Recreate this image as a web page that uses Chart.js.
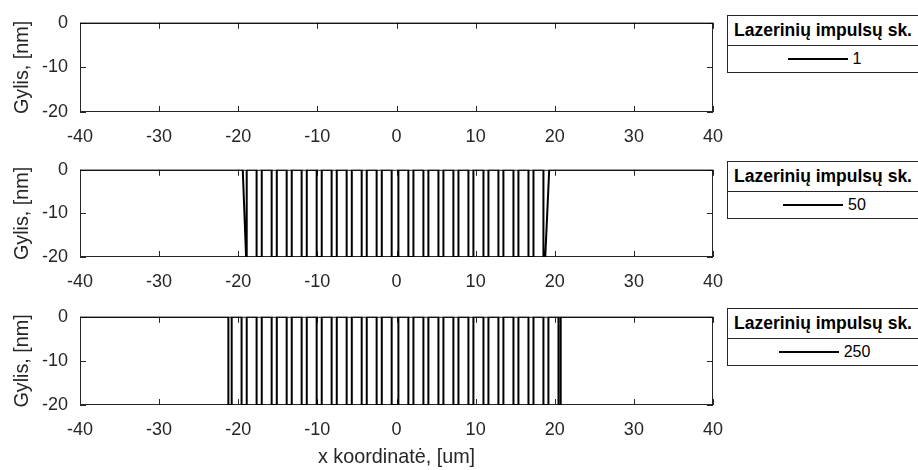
<!DOCTYPE html>
<html>
<head>
<meta charset="utf-8">
<script src="https://cdn.jsdelivr.net/npm/chart.js@4.4.0/dist/chart.umd.min.js"></script>
<style>
  body { margin: 0; background: #fff; width: 918px; height: 470px; overflow: hidden; position: relative; font-family: "Liberation Sans", Arial, sans-serif; }
  canvas { position: absolute; left: 0; }
  .legend { position: absolute; left: 727px; width: 195px; border: 1px solid #262626; background: #fff; color: #000; box-sizing: border-box; }
  .legend .ttl { font-weight: bold; font-size: 17.5px; text-align: center; height: 29px; line-height: 29px; border-bottom: 1px solid #262626; white-space: nowrap; padding-right: 3px; }
  .legend .row { height: 26px; display: flex; align-items: center; justify-content: center; font-size: 16px; }
  .legend .row .ln { width: 60px; height: 0; border-top: 2px solid #000; margin-right: 5px; }
</style>
</head>
<body>
<canvas id="c1" width="918" height="147" style="top:0px"></canvas>
<canvas id="c2" width="918" height="147" style="top:147px"></canvas>
<canvas id="c3" width="918" height="176" style="top:294px"></canvas>

<script>
// ašys
const xMin = -40, xMax = 40, xStep = 10;
const yMin = -20, yMax = 0, yStep = 10;
const grooveDepth = -20;

// legendos
const legendTitle = "Lazerinių impulsų sk.";
const seriesLabels = ["1", "50", "250"];

// 1 impulsas - lygus paviršius
const capStarts1 = [];
const capEnds1 = [];
const walls1 = [];

// 50 impulsų - sienelės (kairė viršus, kairė apačia, dešinė apačia, dešinė viršus)
const walls50 = [-19.43, -19.01, 18.8, 19.3];
const capStarts50 = [-18.93, -17.03, -15.13, -13.24, -11.34, -9.45, -7.55, -5.65, -3.76, -1.86,
  0.24, 2.14, 4.03, 5.93, 7.83, 9.72, 11.62, 13.51, 15.41, 17.31];
const capEnds50 = [-17.68, -15.78, -13.88, -11.99, -10.09, -8.2, -6.3, -4.4, -2.51, -0.61,
  1.5, 3.4, 5.3, 7.19, 9.09, 10.99, 12.88, 14.78, 16.68, 18.57];

// 250 impulsų
const walls250 = [-21.25, -21.25, 20.75, 20.75];
const capStarts250 = [-20.83, -18.93, -17.03, -15.13, -13.24, -11.34, -9.45, -7.55, -5.65, -3.76, -1.86,
  0.24, 2.14, 4.03, 5.93, 7.83, 9.72, 11.62, 13.51, 15.41, 17.31, 19.2];
const capEnds250 = [-19.58, -17.68, -15.78, -13.88, -11.99, -10.09, -8.2, -6.3, -4.4, -2.51, -0.61,
  1.5, 3.4, 5.3, 7.19, 9.09, 10.99, 12.88, 14.78, 16.68, 18.57, 20.47];

Chart.defaults.font.family = '"Liberation Sans", Arial, sans-serif';
Chart.defaults.color = "#262626";

// profilio taškai iš nuskaitytų kraštų
function buildProfile(walls, starts, ends) {
  if (starts.length === 0) return [{ x: xMin, y: 0 }, { x: xMax, y: 0 }];
  const pts = [{ x: xMin, y: 0 }, { x: walls[0], y: 0 }, { x: walls[1], y: grooveDepth }];
  for (let i = 0; i < starts.length; i++) {
    pts.push({ x: starts[i], y: grooveDepth }, { x: starts[i], y: 0 }, { x: ends[i], y: 0 }, { x: ends[i], y: grooveDepth });
  }
  pts.push({ x: walls[2], y: grooveDepth }, { x: walls[3], y: 0 }, { x: xMax, y: 0 });
  return pts;
}

// rėmelis ir vidinės žymės
const framePlugin = {
  id: "frame",
  beforeDatasetsDraw(chart) {
    const { ctx, chartArea: a, scales } = chart;
    ctx.save();
    ctx.strokeStyle = "#262626";
    ctx.lineWidth = 1;
    ctx.strokeRect(a.left + 0.5, a.top + 0.5, a.width - 1, a.height - 1);
    ctx.beginPath();
    scales.x.ticks.forEach((t) => {
      const px = Math.round(scales.x.getPixelForValue(t.value)) + 0.5;
      ctx.moveTo(px, a.bottom);
      ctx.lineTo(px, a.bottom - 6);
      ctx.moveTo(px, a.top);
      ctx.lineTo(px, a.top + 6);
    });
    scales.y.ticks.forEach((t) => {
      const py = Math.round(scales.y.getPixelForValue(t.value)) + 0.5;
      ctx.moveTo(a.left, py);
      ctx.lineTo(a.left + 6, py);
      ctx.moveTo(a.right, py);
      ctx.lineTo(a.right - 6, py);
    });
    ctx.stroke();
    ctx.restore();
  },
};

function makeChart(id, label, points, axisHeight, showXTitle, legendTop) {
  new Chart(document.getElementById(id), {
    type: "line",
    data: {
      datasets: [
        {
          label: label,
          data: points,
          borderColor: "#000",
          borderWidth: 2,
          pointRadius: 0,
          tension: 0,
        },
      ],
    },
    options: {
      responsive: false,
      animation: false,
      layout: { padding: { top: 14, right: 205, left: 0, bottom: 0 } },
      plugins: { legend: { display: false }, tooltip: { enabled: false } },
      scales: {
        x: {
          type: "linear",
          min: xMin,
          max: xMax,
          grid: { display: false, drawTicks: false },
          border: { display: false },
          ticks: { stepSize: xStep, autoSkip: false, maxRotation: 0, padding: 14, font: { size: 18 } },
          title: { display: showXTitle, text: "x koordinatė, [um]", font: { size: 19.8 }, padding: { top: 0, bottom: 1 } },
          afterFit(scale) {
            scale.height = axisHeight;
          },
        },
        y: {
          min: yMin,
          max: yMax,
          grid: { display: false, drawTicks: false },
          border: { display: false },
          ticks: { stepSize: yStep, padding: 12, font: { size: 18 } },
          title: { display: true, text: "Gylis, [nm]", font: { size: 19.8 }, padding: { top: 11, bottom: 0 } },
          afterFit(scale) {
            scale.width = 80;
          },
        },
      },
    },
    plugins: [framePlugin],
  });

  const box = document.createElement("div");
  box.className = "legend";
  box.style.top = legendTop + "px";
  box.innerHTML = '<div class="ttl"></div><div class="row"><span class="ln"></span><span class="lbl"></span></div>';
  box.querySelector(".ttl").textContent = legendTitle;
  box.querySelector(".lbl").textContent = label;
  document.body.appendChild(box);
}

makeChart("c1", seriesLabels[0], buildProfile(walls1, capStarts1, capEnds1), 35, false, 15);
makeChart("c2", seriesLabels[1], buildProfile(walls50, capStarts50, capEnds50), 37, false, 161);
makeChart("c3", seriesLabels[2], buildProfile(walls250, capStarts250, capEnds250), 65, true, 308);
</script>
</body>
</html>
